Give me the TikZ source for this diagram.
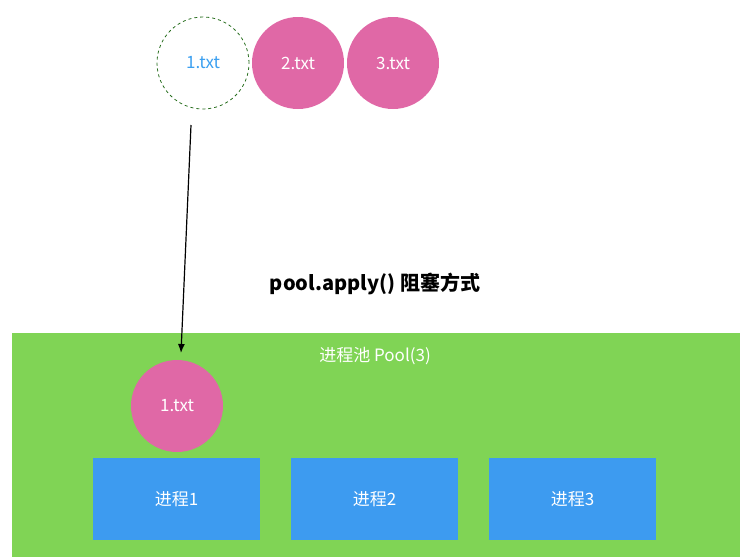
\documentclass[tikz,border=0pt]{standalone}
\usepackage{fontspec}
\setmainfont{Noto Sans CJK SC}
\usetikzlibrary{arrows.meta}
\begin{document}
\begin{tikzpicture}[x=1pt,y=-1pt,
  pink/.style={circle,fill=pinkc,minimum size=92pt,inner sep=0pt,text=white,font=\fontsize{17}{19}\selectfont},
  proc/.style={rectangle,fill=bluec,minimum width=167pt,minimum height=82pt,text=white,font=\fontsize{17}{19}\selectfont}]
\definecolor{pinkc}{RGB}{224,104,166}
\definecolor{greenc}{RGB}{128,212,85}
\definecolor{bluec}{RGB}{61,155,240}
\definecolor{dgreen}{RGB}{40,110,30}
\definecolor{txtblue}{RGB}{60,160,240}
\useasboundingbox (0,0) rectangle (749,557);
\node[circle,draw=dgreen,dashed,thick,minimum size=92pt,inner sep=0pt,text=txtblue,font=\fontsize{17}{19}\selectfont] (c1) at (203,63) {1.txt};
\node[pink] (c2) at (298,63) {2.txt};
\node[pink] (c3) at (393,63) {3.txt};
\node[font=\bfseries\fontsize{20}{23}\selectfont] (lab) at (375,284) {pool.apply() 阻塞方式};
\fill[greenc] (12,333) rectangle (740,557);
\node[text=white,font=\fontsize{17}{19}\selectfont] (pt) at (375,356) {进程池 Pool(3)};
\node[pink] (p1) at (177,406) {1.txt};
\node[proc] (b1) at (176.5,499) {进程1};
\node[proc] (b2) at (374.5,499) {进程2};
\node[proc] (b3) at (572.5,499) {进程3};
\coordinate (s) at (191,125);
\coordinate (e) at (181,353);
\draw[-{Latex[length=9pt,width=7pt]},line width=1.2pt] (s) -- (e);
\end{tikzpicture}
\end{document}
